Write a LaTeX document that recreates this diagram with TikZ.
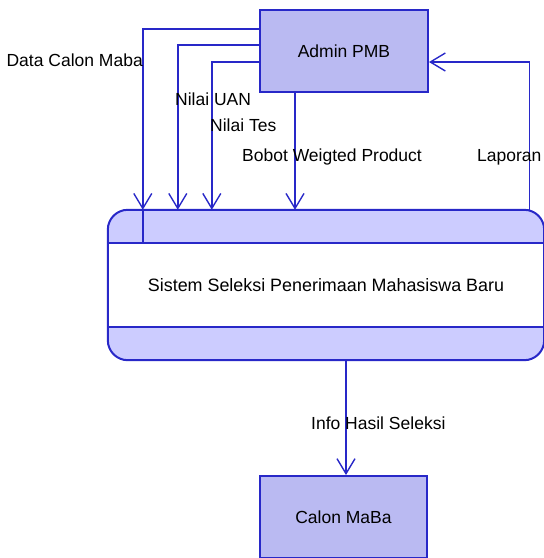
\documentclass[tikz,border=0pt]{standalone}
\usepackage{fontspec}
\setmainfont{Liberation Sans}
\usetikzlibrary{arrows.meta}
\definecolor{garis}{RGB}{40,40,200}
\definecolor{isi}{RGB}{186,186,242}
\definecolor{isiproses}{RGB}{204,204,255}
\begin{document}
\begin{tikzpicture}[x=1pt, y=-1pt,
  entitas/.style={fill=isi, draw=garis, line width=2pt, rectangle, inner sep=0pt},
  aliran/.style={draw=garis, line width=1.4pt, -{Straight Barb[length=15pt, width=18pt, line width=1.4pt]}},
  label/.style={inner sep=0pt, font=\fontsize{17.5}{20}\selectfont}]
\useasboundingbox (0,0) rectangle (544,558);
\draw node[entitas, minimum width=168pt, minimum height=82pt, font=\fontsize{17.5}{20}\selectfont] (admin) at (344,51) {Admin PMB};
\draw node[entitas, minimum width=167pt, minimum height=82pt, font=\fontsize{17.5}{20}\selectfont] (calon) at (343.5,517) {Calon MaBa};
\draw node[fill=isiproses, rounded corners=20pt, minimum width=436pt, minimum height=150pt, inner sep=0pt] (sistem) at (326,285) {};
\fill[white] ([yshift=-33pt]sistem.north west) rectangle ([yshift=33pt]sistem.south east);
\draw[garis, line width=2pt, rounded corners=20pt] (sistem.north west) rectangle (sistem.south east);
\draw[garis, line width=2pt] ([yshift=-33pt]sistem.north west) -- ([yshift=-33pt]sistem.north east);
\draw[garis, line width=2pt] ([yshift=33pt]sistem.south west) -- ([yshift=33pt]sistem.south east);
\draw[garis, line width=1.6pt] ([xshift=35pt]sistem.north west) -- ([xshift=35pt, yshift=-33pt]sistem.north west);
\draw node[label, font=\fontsize{17.9}{21}\selectfont] at (sistem) {Sistem Seleksi Penerimaan Mahasiswa Baru};
% aliran data
\draw[aliran] ([yshift=22pt]admin.west) -| ([xshift=35pt]sistem.north west);
\draw[aliran] ([yshift=6pt]admin.west) -| ([xshift=70pt]sistem.north west);
\draw[aliran] ([yshift=-11pt]admin.west) -| ([xshift=104pt]sistem.north west);
\draw[aliran] ([xshift=-49pt]admin.south) -- ([xshift=-49pt]admin.south |- sistem.north);
\draw[aliran] ([xshift=-15pt]sistem.north east) |- ([yshift=-11pt]admin.east);
\draw[aliran] ([xshift=20pt]sistem.south) -- ([xshift=20pt]sistem.south |- calon.north);
\draw node[label, anchor=east] at (143,60) {Data Calon Maba};
\draw node[label, anchor=west] at (175,99) {Nilai UAN};
\draw node[label, anchor=west] at (210,125) {Nilai Tes};
\draw node[label, anchor=west] at (242,157) {Bobot Weigted Product};
\draw node[label, anchor=west] at (477,157) {Laporan};
\draw node[label, anchor=west] at (311,423) {Info Hasil Seleksi};
\end{tikzpicture}
\end{document}
